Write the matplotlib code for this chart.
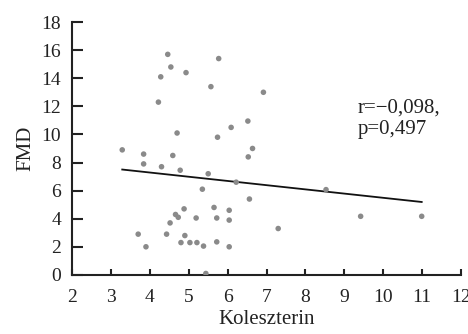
import matplotlib
matplotlib.use("Agg")
import matplotlib.pyplot as plt

# FMD vs Koleszterin scatter
koleszterin = [3.29, 3.70, 3.84, 3.84, 3.90, 4.22, 4.28, 4.30, 4.43, 4.46,
               4.52, 4.54, 4.59, 4.66, 4.70, 4.73, 4.78, 4.80, 4.88, 4.90,
               4.93, 5.03, 5.19, 5.21, 5.35, 5.38, 5.44, 5.50, 5.57, 5.65,
               5.72, 5.72, 5.74, 5.77, 6.04, 6.04, 6.04, 6.09, 6.22, 6.52,
               6.53, 6.56, 6.64, 6.92, 7.30, 8.53, 9.42, 10.99]
fmd = [8.9, 2.9, 8.6, 7.9, 2.0, 12.3, 14.1, 7.7, 2.9, 15.7,
       3.7, 14.8, 8.5, 4.3, 10.1, 4.1, 7.45, 2.3, 4.7, 2.8,
       14.4, 2.3, 4.05, 2.3, 6.1, 2.05, 0.1, 7.2, 13.4, 4.8,
       4.05, 2.35, 9.8, 15.4, 4.6, 3.9, 2.0, 10.5, 6.6, 10.95,
       8.4, 5.4, 9.0, 13.0, 3.3, 6.07, 4.17, 4.17]

# regression line end points
fit_x = [3.29, 10.99]
fit_y = [7.5, 5.19]

x_ticks = [2, 3, 4, 5, 6, 7, 8, 9, 10, 11, 12]
y_ticks = [0, 2, 4, 6, 8, 10, 12, 14, 16, 18]

plt.rcParams['font.family'] = ['Liberation Serif', 'DejaVu Serif']

fig = plt.figure(figsize=(4.68, 3.34), dpi=100)
ax = fig.add_axes([0.154, 0.177, 0.831, 0.757])

ax.scatter(koleszterin, fmd, s=16, color='#8a8a8a', edgecolors='none', zorder=3)
ax.plot(fit_x, fit_y, color='#111111', linewidth=1.3, zorder=2)

ax.set_xlim(2, 12)
ax.set_ylim(0, 18)
ax.set_xticks(x_ticks)
ax.set_yticks(y_ticks)

for side in ['top', 'right']:
    ax.spines[side].set_visible(False)
for side in ['left', 'bottom']:
    ax.spines[side].set_linewidth(1.5)
    ax.spines[side].set_color('#222222')

ax.tick_params(axis='y', direction='in', length=8, width=1.5, labelsize=14, pad=8, colors='#222222')
ax.tick_params(axis='x', direction='in', length=4, width=1.5, labelsize=14, pad=10, colors='#222222')

ax.set_xlabel('Koleszterin', fontsize=15, labelpad=3, color='#222222')
ax.set_ylabel('FMD', fontsize=15, labelpad=4, color='#222222')

ax.text(9.35, 11.1, 'r=\u22120,098,\np=0,497', fontsize=15, color='#222222',
        va='center', ha='left', linespacing=1.2)

fig.savefig('out.png', dpi=100)
